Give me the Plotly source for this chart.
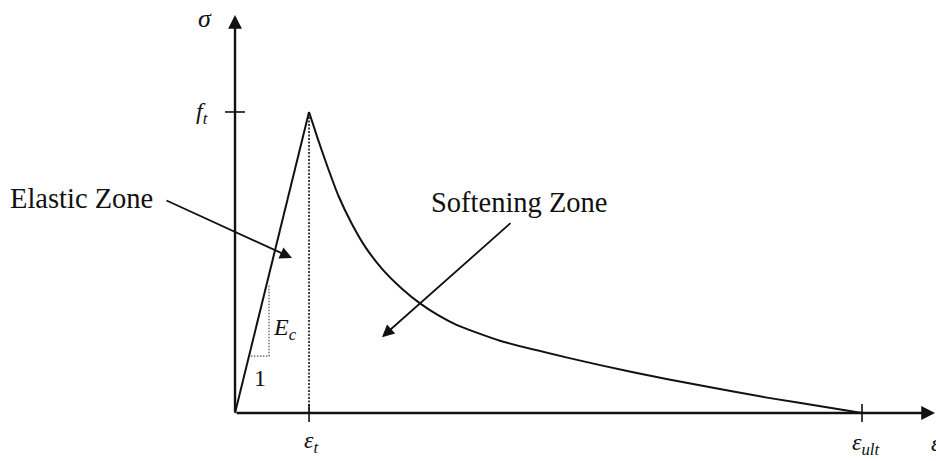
import plotly.graph_objects as go

# Normalised tension softening law: strain / eps_t, stress / f_t
eps_elastic = [0.0, 1.0]
sig_elastic = [0.0, 1.0]

eps_soft = [1.0, 1.12, 1.25, 1.40, 1.58, 1.76, 1.99, 2.26, 2.50, 2.75,
            3.00, 3.58, 4.49, 5.38, 6.28, 7.19, 8.08, 8.473]
sig_soft = [1.0, 0.910, 0.818, 0.720, 0.628, 0.552, 0.478, 0.412, 0.364, 0.324,
            0.292, 0.240, 0.184, 0.135, 0.092, 0.051, 0.016, 0.0]

eps_t = 1.0
f_t = 1.0
eps_ult = 8.473

# slope triangle for E_c
tri_x = [0.215, 0.459, 0.459]
tri_y = [0.189, 0.189, 0.425]

# drawing extents
x_range = [-3.176, 9.473]
y_range = [-0.1595, 1.372]
x_axis_end = 9.46
y_axis_end = 1.322

FONT = "Liberation Serif"
BLACK = "#111111"

fig = go.Figure()

fig.add_trace(go.Scatter(x=eps_elastic, y=sig_elastic, mode="lines",
                         line=dict(color=BLACK, width=2), hoverinfo="skip"))
fig.add_trace(go.Scatter(x=eps_soft, y=sig_soft, mode="lines",
                         line=dict(color=BLACK, width=2, shape="spline", smoothing=0.6),
                         hoverinfo="skip"))

# dotted drop line at the peak
fig.add_trace(go.Scatter(x=[eps_t, eps_t], y=[0, f_t], mode="lines",
                         line=dict(color=BLACK, width=1.6, dash="2px,1.5px"),
                         hoverinfo="skip"))
# slope triangle
fig.add_trace(go.Scatter(x=tri_x, y=tri_y, mode="lines",
                         line=dict(color="#555555", width=1.2, dash="1.5px,1.5px"),
                         hoverinfo="skip"))

# tick marks on the axes
fig.add_trace(go.Scatter(x=[-0.135, 0.135], y=[f_t, f_t], mode="lines",
                         line=dict(color=BLACK, width=1.6), hoverinfo="skip"))
for xv in (eps_t, eps_ult):
    fig.add_trace(go.Scatter(x=[xv, xv], y=[0.03, -0.03], mode="lines",
                             line=dict(color=BLACK, width=1.6), hoverinfo="skip"))

ann = []

def arrow(x0, y0, x1, y1, width=2.2, size=1.3):
    ann.append(dict(x=x1, y=y1, ax=x0, ay=y0, xref="x", yref="y",
                    axref="x", ayref="y", text="", showarrow=True,
                    arrowhead=2, arrowsize=size, arrowwidth=width,
                    arrowcolor=BLACK, standoff=0, startstandoff=0))

# coordinate axes
arrow(0, 0, x_axis_end, 0, width=2.4, size=1.15)
arrow(0, 0, 0, y_axis_end, width=2.4, size=1.15)
# zone pointers
arrow(-0.946, 0.708, 0.770, 0.515, width=1.8, size=1.35)
arrow(3.743, 0.635, 1.986, 0.252, width=1.8, size=1.35)

def label(x, y, text, size=24, xanchor="center"):
    ann.append(dict(x=x, y=y, xref="x", yref="y", text=text, showarrow=False,
                    xanchor=xanchor, yanchor="middle",
                    font=dict(family=FONT, size=size, color=BLACK)))

label(-0.40, 1.31, "<i>σ</i>", size=26)
label(-0.45, 0.995, "<i>f</i><sub><i>t</i></sub>", size=24)
label(eps_t + 0.02, -0.098, "<i>ε</i><sub><i>t</i></sub>", size=24)
label(eps_ult + 0.05, -0.104, "<i>ε</i><sub><i>ult</i></sub>", size=24)
label(9.38, -0.10, "<i>ε</i>", size=24, xanchor="left")
label(0.68, 0.28, "<i>E</i><sub><i>c</i></sub>", size=24)
label(0.34, 0.115, "1", size=24)
label(-2.068, 0.712, "Elastic Zone", size=28.5)
label(3.845, 0.70, "Softening Zone", size=28.5)

fig.update_layout(
    width=936, height=461,
    margin=dict(l=0, r=0, t=0, b=0),
    paper_bgcolor="white", plot_bgcolor="white",
    showlegend=False,
    xaxis=dict(range=x_range, visible=False, fixedrange=True),
    yaxis=dict(range=y_range, visible=False, fixedrange=True),
    annotations=ann,
)

fig.write_html("out.html")
